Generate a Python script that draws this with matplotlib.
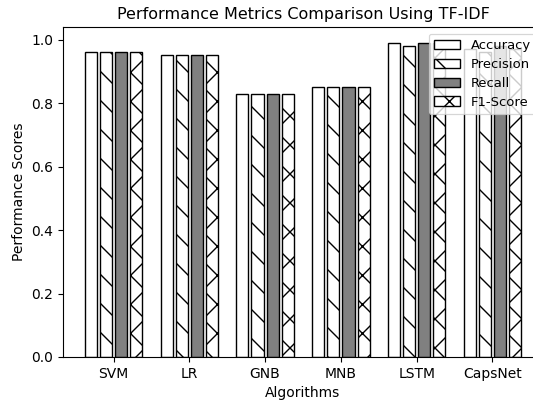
import matplotlib
matplotlib.use("Agg")
import matplotlib.pyplot as plt
import numpy as np

algorithms = ["SVM", "LR", "GNB", "MNB", "LSTM", "CapsNet"]
accuracy = [0.96, 0.95, 0.83, 0.85, 0.99, 0.97]
precision = [0.96, 0.95, 0.83, 0.85, 0.98, 0.96]
recall = [0.96, 0.95, 0.83, 0.85, 0.99, 0.98]
f1_score = [0.96, 0.95, 0.83, 0.85, 0.99, 0.97]
metric_names = ["Accuracy", "Precision", "Recall", "F1-Score"]

W, H = 533, 400
D = 87
s = 100 / D
plt.rcParams.update({
    "font.size": 10 * s,
    "axes.linewidth": 0.8 * s,
    "xtick.major.size": 3.5 * s, "ytick.major.size": 3.5 * s,
    "xtick.major.width": 0.8 * s, "ytick.major.width": 0.8 * s,
    "xtick.major.pad": 3.5 * s, "ytick.major.pad": 3.5 * s,
    "axes.labelpad": 4 * s, "axes.titlepad": 6 * s,
    "hatch.linewidth": 1.0 * s,
    "legend.fontsize": 9.5 * s,
})
fig = plt.figure(figsize=(W / D, H / D), dpi=D)
ax = fig.add_axes([63 / W, 43 / H, 480 / W, 330 / H])
x = np.arange(len(algorithms))
w = 0.16
step = 0.2
series = [accuracy, precision, recall, f1_score]
styles = [dict(color="white", hatch=None), dict(color="white", hatch="\\"),
          dict(color="grey", hatch=None), dict(color="white", hatch="x")]
for i, (vals, st, name) in enumerate(zip(series, styles, metric_names)):
    ax.bar(x + (i - 1.5) * step, vals, w, color=st["color"], edgecolor="black",
           hatch=st["hatch"], label=name, linewidth=1.0 * s)
ax.set_xticks(x)
ax.set_xticklabels(algorithms)
ax.set_xlabel("Algorithms")
ax.set_ylabel("Performance Scores")
ax.set_title("Performance Metrics Comparison Using TF-IDF", fontsize=11.5 * s)
ax.legend(loc="upper right", labelspacing=0.45)
fig.savefig("out.png", dpi=D)
